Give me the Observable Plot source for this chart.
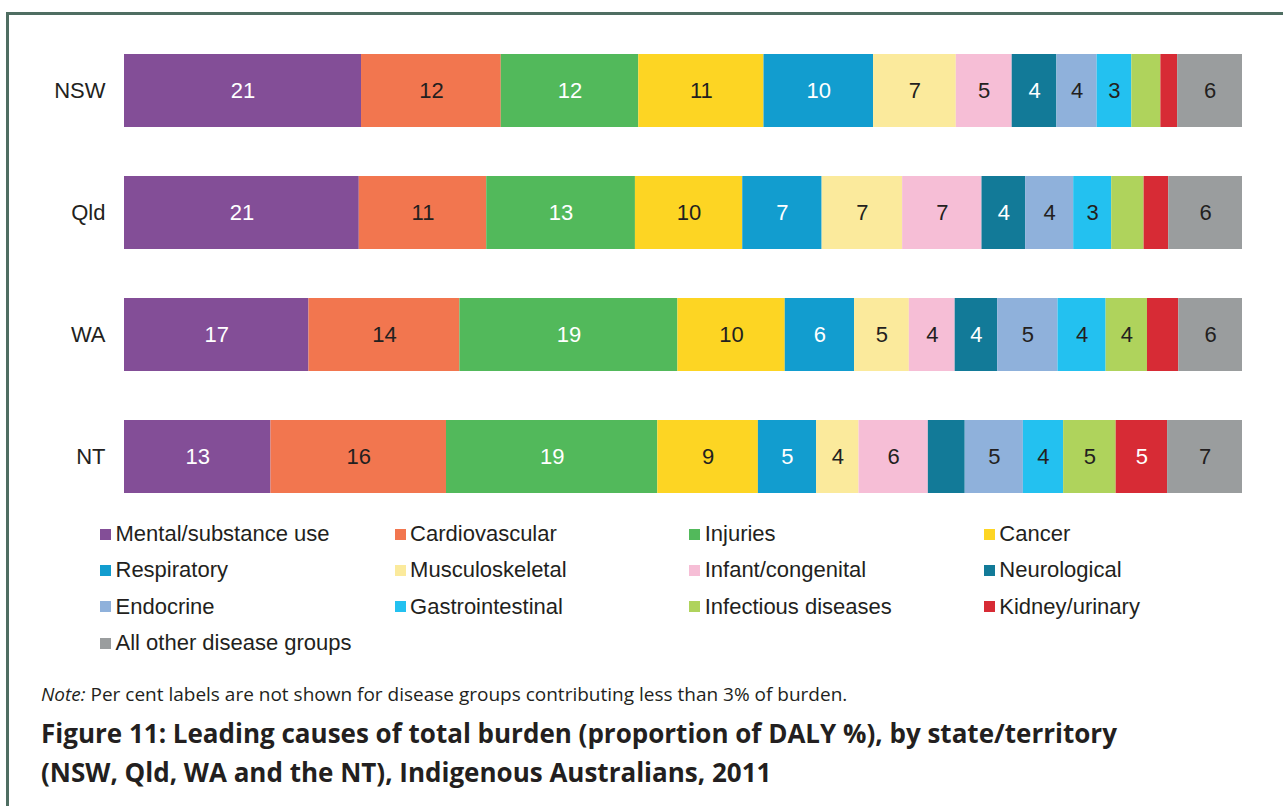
<!DOCTYPE html>
<html>
<head>
<meta charset="utf-8">
<script src="https://cdn.jsdelivr.net/npm/d3@7"></script>
<script src="https://cdn.jsdelivr.net/npm/@observablehq/plot@0.6"></script>
<style>
  html, body { margin: 0; padding: 0; background: #fff; overflow: hidden; }
  #page { position: relative; width: 1283px; height: 806px; overflow: hidden; }
  #frame { position: absolute; left: 6px; top: 12px; width: 1400px; height: 900px;
           border-left: 3px solid #4f6e62; border-top: 3px solid #4f6e62; }
  #chart { position: absolute; left: 0; top: 0; }
  #legend { position: absolute; left: 100px; top: 516px; display: grid;
            grid-template-columns: repeat(4, 294.6px); grid-auto-rows: 36.3px;
            font-family: "Liberation Sans", Arial, sans-serif; font-size: 22px; color: #231f20; }
  .item { display: flex; align-items: center; white-space: nowrap; }
  .sw { width: 11px; height: 11px; margin-right: 4.5px; flex: none; }
  #note { position: absolute; left: 41px; top: 681px; font-family: "Open Sans", sans-serif;
          font-size: 19px; line-height: 26px; color: #231f20; white-space: nowrap; }
  #title { position: absolute; left: 41px; top: 714px; font-family: "Open Sans", sans-serif;
           font-weight: bold; font-size: 26px; line-height: 39px; color: #231f20; white-space: nowrap; }
</style>
</head>
<body>
<div id="page">
  <div id="frame"></div>
  <div id="chart"></div>
  <div id="legend"></div>
  <div id="note"><i>Note:</i> Per cent labels are not shown for disease groups contributing less than 3% of burden.</div>
  <div id="title">Figure 11: Leading causes of total burden (proportion of DALY %), by state/territory<br>(NSW, Qld, WA and the NT), Indigenous Australians, 2011</div>
</div>
<script>
const states = ["NSW", "Qld", "WA", "NT"];
const groups = ["Mental/substance use", "Cardiovascular", "Injuries", "Cancer",
  "Respiratory", "Musculoskeletal", "Infant/congenital", "Neurological",
  "Endocrine", "Gastrointestinal", "Infectious diseases", "Kidney/urinary",
  "All other disease groups"];
const colors = ["#834e97", "#f2764f", "#52b95b", "#fdd523", "#129dcf", "#fbea9c",
  "#f6bed6", "#127a98", "#8fb1db", "#23c1f0", "#afd35c", "#d72b35", "#9a9d9e"];
const whiteTextGroups = ["Mental/substance use", "Injuries", "Respiratory", "Neurological", "Kidney/urinary"];

const nswValues = [21.2, 12.5, 12.3, 11.2, 9.8, 7.4, 5.0, 4.0, 3.6, 3.1, 2.6, 1.5, 5.8];
const qldValues = [21.0, 11.4, 13.3, 9.6, 7.1, 7.2, 7.1, 3.9, 4.3, 3.4, 2.9, 2.2, 6.6];
const waValues  = [16.5, 13.5, 19.5, 9.6, 6.2, 4.9, 4.1, 3.8, 5.4, 4.3, 3.7, 2.8, 5.7];
const ntValues  = [13.1, 15.7, 18.9, 9.0, 5.2, 3.8, 6.2, 3.3, 5.2, 3.6, 4.7, 4.6, 6.7];

const nswLabels = ["21", "12", "12", "11", "10", "7", "5", "4", "4", "3", "", "", "6"];
const qldLabels = ["21", "11", "13", "10", "7", "7", "7", "4", "4", "3", "", "", "6"];
const waLabels  = ["17", "14", "19", "10", "6", "5", "4", "4", "5", "4", "4", "", "6"];
const ntLabels  = ["13", "16", "19", "9", "5", "4", "6", "", "5", "4", "5", "5", "7"];

const valueSets = [nswValues, qldValues, waValues, ntValues];
const labelSets = [nswLabels, qldLabels, waLabels, ntLabels];

const data = [];
states.forEach((s, si) => {
  groups.forEach((g, gi) => {
    data.push({state: s, group: g, value: valueSets[si][gi], label: labelSets[si][gi]});
  });
});

const stackOpts = {x: "value", y: "state", order: null};
const isWhite = d => whiteTextGroups.includes(d.group);

const chart = Plot.plot({
  width: 1283,
  height: 520,
  marginTop: 28,
  marginBottom: 2,
  marginLeft: 124,
  marginRight: 41,
  style: {fontFamily: "'Liberation Sans', Arial, sans-serif", fontSize: "22px", color: "#231f20", background: "transparent"},
  x: {domain: [0, 100], axis: null},
  y: {domain: states, paddingInner: 0.404, paddingOuter: 0.202, label: null},
  color: {domain: groups, range: colors},
  marks: [
    Plot.barX(data, Plot.stackX({...stackOpts, fill: "group"})),
    Plot.text(data, Plot.stackX({...stackOpts, text: d => isWhite(d) ? d.label : "",
      fill: "white", fontSize: 22})),
    Plot.text(data, Plot.stackX({...stackOpts, text: d => isWhite(d) ? "" : d.label,
      fill: "#231f20", fontSize: 22})),
    Plot.axisY({tickSize: 0, tickPadding: 19, fontSize: 22, label: null})
  ]
});
document.getElementById("chart").appendChild(chart);

const legend = document.getElementById("legend");
groups.forEach((g, i) => {
  const it = document.createElement("div");
  it.className = "item";
  const sw = document.createElement("span");
  sw.className = "sw";
  sw.style.background = colors[i];
  it.appendChild(sw);
  it.appendChild(document.createTextNode(g));
  legend.appendChild(it);
});
</script>
</body>
</html>
